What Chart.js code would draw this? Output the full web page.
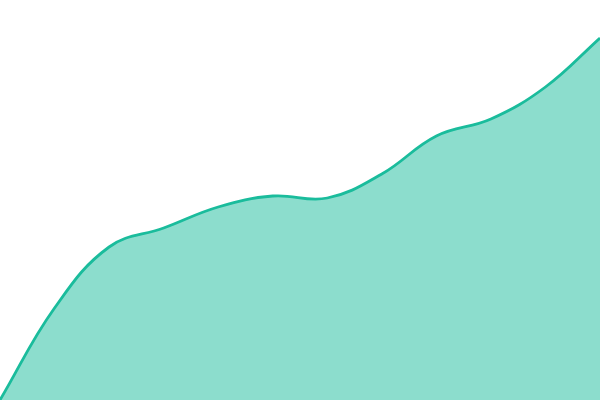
<!DOCTYPE html>
<html lang="en">
<head>
  <meta charset="UTF-8">
  <title>Area chart</title>
  <script src="https://cdn.jsdelivr.net/npm/chart.js"></script>
  <style>
    html, body { margin: 0; padding: 0; background: #fff; }
    #box { width: 600px; height: 400px; }
  </style>
</head>
<body>
  <div id="box"><canvas id="grafico"></canvas></div>

  <script>
    // data
    const labels = ['1', '2', '3', '4', '5', '6', '7', '8', '9', '10', '11', '12'];
    const values = [0, 92, 153, 172, 193, 204, 202, 226, 264, 281, 313, 362];
    const yMin = 0;
    const yMax = 400;

    const ctx = document.getElementById('grafico').getContext('2d');

    new Chart(ctx, {
      type: 'line',
      data: {
        labels: labels,
        datasets: [{
          data: values,
          borderColor: '#1abc9c',
          backgroundColor: 'rgba(26, 188, 156, 0.5)',
          borderWidth: 2.8,
          fill: true,
          tension: 0.4,
          pointRadius: 0
        }]
      },
      options: {
        responsive: true,
        maintainAspectRatio: false,
        animation: false,
        layout: { padding: 0 },
        plugins: {
          legend: { display: false },
          tooltip: { enabled: false }
        },
        scales: {
          x: { display: false, offset: false },
          y: { display: false, min: yMin, max: yMax }
        }
      }
    });
  </script>
</body>
</html>
